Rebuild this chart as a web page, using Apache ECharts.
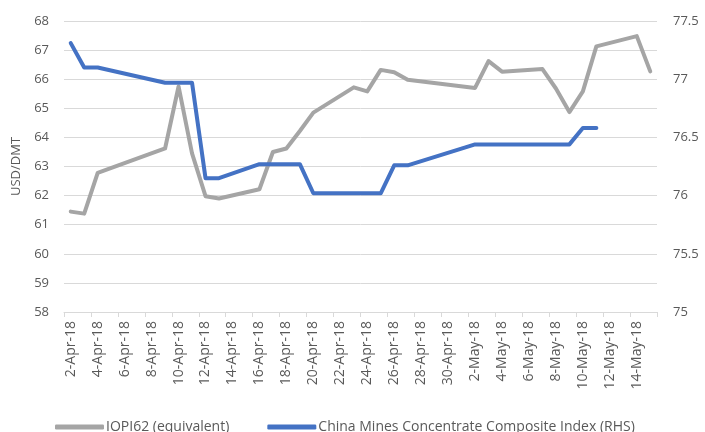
<!DOCTYPE html>
<html>
<head>
<meta charset="utf-8">
<script src="https://cdn.jsdelivr.net/npm/echarts@6/dist/echarts.min.js"></script>
<style>
html,body{margin:0;padding:0;background:#fff;}
#chart{width:705px;height:432px;}
</style>
</head>
<body>
<div id="chart"></div>
<script>
var categories = [
  '2-Apr-18','3-Apr-18','4-Apr-18','5-Apr-18','6-Apr-18','7-Apr-18','8-Apr-18','9-Apr-18',
  '10-Apr-18','11-Apr-18','12-Apr-18','13-Apr-18','14-Apr-18','15-Apr-18','16-Apr-18','17-Apr-18',
  '18-Apr-18','19-Apr-18','20-Apr-18','21-Apr-18','22-Apr-18','23-Apr-18','24-Apr-18','25-Apr-18',
  '26-Apr-18','27-Apr-18','28-Apr-18','29-Apr-18','30-Apr-18','1-May-18','2-May-18','3-May-18',
  '4-May-18','5-May-18','6-May-18','7-May-18','8-May-18','9-May-18','10-May-18','11-May-18',
  '12-May-18','13-May-18','14-May-18','15-May-18'
];
var iopi62 = [
  61.45, 61.38, 62.78, null, null, null, null, 63.62,
  65.75, 63.45, 61.98, 61.90, null, null, 62.22, 63.50,
  63.62, 64.22, 64.85, null, null, 65.72, 65.58, 66.32,
  66.24, 65.98, null, null, null, null, 65.70, 66.62,
  66.26, null, null, 66.35, 65.68, 64.87, 65.58, 67.13,
  null, null, 67.48, 66.27
];
var chinaMines = [
  77.31, 77.10, 77.10, null, null, null, null, 76.97,
  76.97, 76.97, 76.15, 76.15, null, null, 76.27, 76.27,
  76.27, 76.27, 76.02, null, null, 76.02, 76.02, 76.02,
  76.26, 76.26, null, null, null, null, 76.44, 76.44,
  76.44, null, null, 76.44, 76.44, 76.44, 76.58, 76.58,
  null, null, null, null
];
var seriesNames = ['IOPI62 (equivalent)', 'China Mines Concentrate Composite Index (RHS)'];
var leftAxisName = 'USD/DMT';

var txt = '#595959';
var gridCol = '#D9D9D9';
var font = 'Open Sans, Liberation Sans, sans-serif';

var chart = echarts.init(document.getElementById('chart'), null, {renderer: 'canvas'});
chart.setOption({
  animation: false,
  backgroundColor: '#fff',
  grid: {left: 64, right: 48, top: 21, bottom: 120, containLabel: false},
  legend: {
    bottom: -7,
    left: 50,
    itemWidth: 49,
    itemHeight: 5,
    itemGap: 38,
    icon: 'roundRect',
    textStyle: {color: txt, fontSize: 14, fontFamily: font, padding: [0, 0, 0, -3]},
    data: seriesNames
  },
  xAxis: {
    type: 'category',
    data: categories,
    boundaryGap: true,
    axisLine: {lineStyle: {color: gridCol, width: 1}},
    axisTick: {show: true, interval: 1, length: 5, lineStyle: {color: gridCol}},
    axisLabel: {interval: 1, rotate: 90, margin: 9, color: txt, fontSize: 14, fontFamily: font}
  },
  yAxis: [
    {
      type: 'value', min: 58, max: 68, interval: 1,
      name: leftAxisName, nameLocation: 'middle', nameGap: 40,
      nameTextStyle: {color: txt, fontSize: 13, fontFamily: font},
      axisLine: {show: false}, axisTick: {show: false},
      axisLabel: {color: txt, fontSize: 13, fontFamily: font, margin: 15},
      splitLine: {lineStyle: {color: gridCol, width: 1}}
    },
    {
      type: 'value', min: 75, max: 77.5, interval: 0.5,
      axisLine: {show: false}, axisTick: {show: false},
      axisLabel: {color: txt, fontSize: 13, fontFamily: font, margin: 16},
      splitLine: {show: false}
    }
  ],
  series: [
    {
      name: seriesNames[0], type: 'line', yAxisIndex: 0, data: iopi62,
      connectNulls: true, showSymbol: false, symbol: 'none',
      lineStyle: {color: '#A5A5A5', width: 4, cap: 'round', join: 'round'},
      itemStyle: {color: '#A5A5A5'}
    },
    {
      name: seriesNames[1], type: 'line', yAxisIndex: 1, data: chinaMines,
      connectNulls: true, showSymbol: false, symbol: 'none',
      lineStyle: {color: '#4472C4', width: 4, cap: 'round', join: 'round'},
      itemStyle: {color: '#4472C4'}
    }
  ]
});
</script>
</body>
</html>
